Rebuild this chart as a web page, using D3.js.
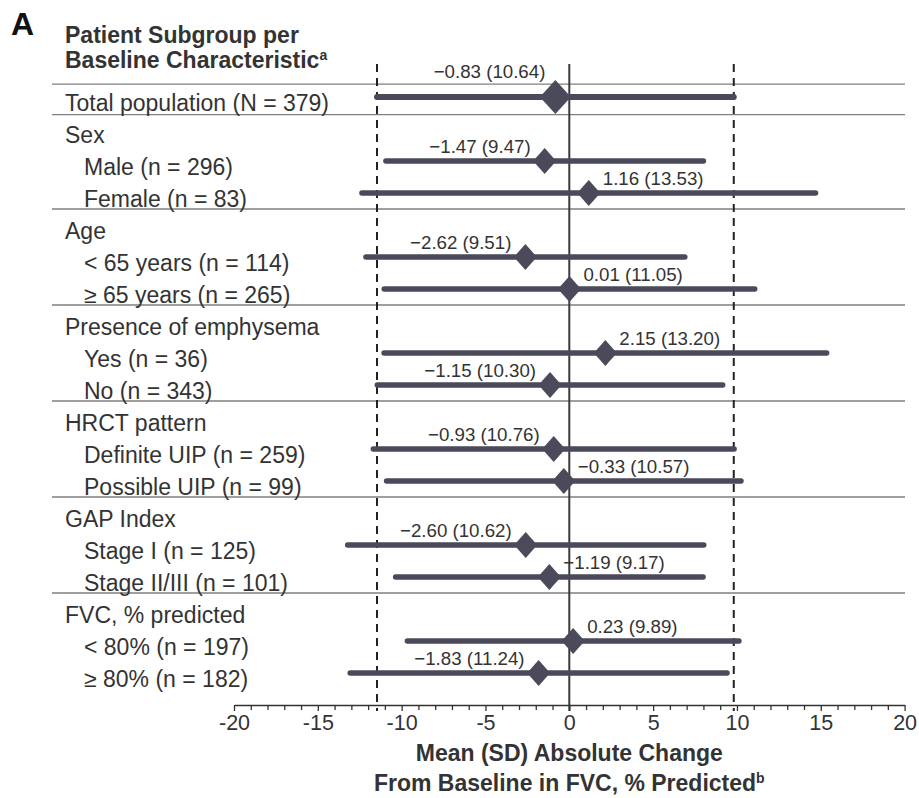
<!DOCTYPE html>
<html>
<head>
<meta charset="utf-8">
<script src="https://cdn.jsdelivr.net/npm/d3@7/dist/d3.min.js"></script>
<style>
  html, body { margin: 0; padding: 0; background: #fff; }
  svg { display: block; font-family: "Liberation Sans", Arial, sans-serif; }
</style>
</head>
<body>
<svg id="chart" width="919" height="798"></svg>
<script>
// ---- data ----
const rowLabels = [
  "Total population (N = 379)",
  "Sex", "Male (n = 296)", "Female (n = 83)",
  "Age", "< 65 years (n = 114)", "\u2265 65 years (n = 265)",
  "Presence of emphysema", "Yes (n = 36)", "No (n = 343)",
  "HRCT pattern", "Definite UIP (n = 259)", "Possible UIP (n = 99)",
  "GAP Index", "Stage I (n = 125)", "Stage II/III (n = 101)",
  "FVC, % predicted", "< 80% (n = 197)", "\u2265 80% (n = 182)"
];
const rowLevels = [0, 1, 2, 2, 1, 2, 2, 1, 2, 2, 1, 2, 2, 1, 2, 2, 1, 2, 2];
const means = [-0.83, null, -1.47, 1.16, null, -2.62, 0.01, null, 2.15, -1.15, null, -0.93, -0.33, null, -2.60, -1.19, null, 0.23, -1.83];
const sds   = [10.64, null, 9.47, 13.53, null, 9.51, 11.05, null, 13.20, 10.30, null, 10.76, 10.57, null, 10.62, 9.17, null, 9.89, 11.24];
const labelSide = ["L", null, "L", "R", null, "L", "R", null, "R", "L", null, "L", "R", null, "L", "R", null, "R", "L"];
const separators = [-0.4, 0.55, 3.5, 6.5, 9.5, 12.5, 15.5];
const xDomain = [-20, 20];
const majorTicks = d3.range(-20, 21, 5);
const minorTicks = d3.range(-20, 21, 1);

// ---- setup ----
const svg = d3.select("#chart");
const ink = "#333333";
const barColor = "#4a4a5a";

const x = d3.scaleLinear().domain(xDomain).range([234, 904.6]);
const y = d3.scaleLinear().domain([0, rowLabels.length - 1]).range([97, 673]);
const axisY = 705;
const topY = 64;

const fmt = v => (v < 0 ? "\u2212" : "") + Math.abs(v).toFixed(2);

// Panel letter & header
svg.append("text").attr("x", 11).attr("y", 35)
  .attr("font-size", 32).attr("font-weight", "bold").attr("fill", "#111").text("A");
const hdr = svg.append("g").attr("font-size", 23).attr("font-weight", "bold").attr("fill", ink);
hdr.append("text").attr("x", 65).attr("y", 43).text("Patient Subgroup per");
const h2 = hdr.append("text").attr("x", 65).attr("y", 68);
h2.append("tspan").text("Baseline Characteristic");
h2.append("tspan").attr("font-size", 14).attr("dy", -8).text("a");

// separators
svg.append("g").selectAll("line").data(separators).join("line")
  .attr("x1", 52).attr("x2", 905)
  .attr("y1", d => y(d)).attr("y2", d => y(d))
  .attr("stroke", "#7f7f7f").attr("stroke-width", 1.3);

// reference lines: ±SD of total population, and zero
const refLo = means[0] - sds[0], refHi = means[0] + sds[0];
svg.append("g").selectAll("line").data([refLo, refHi]).join("line")
  .attr("x1", d => x(d)).attr("x2", d => x(d))
  .attr("y1", topY).attr("y2", axisY + 6)
  .attr("stroke", "#222").attr("stroke-width", 2)
  .attr("stroke-dasharray", "8,6");
svg.append("line")
  .attr("x1", x(0)).attr("x2", x(0)).attr("y1", topY).attr("y2", axisY + 6)
  .attr("stroke", "#3a3a3a").attr("stroke-width", 2);

// row labels
svg.append("g").attr("font-size", 23).attr("fill", ink)
  .selectAll("text").data(rowLabels).join("text")
  .attr("x", (d, i) => rowLevels[i] === 2 ? 84 : 65)
  .attr("y", (d, i) => y(i) + 13.5)
  .text(d => d);

// bars
const rows = d3.range(rowLabels.length).filter(i => means[i] !== null);
const g = svg.append("g");
g.selectAll("line.bar").data(rows).join("line").attr("class", "bar")
  .attr("x1", i => x(means[i] - sds[i])).attr("x2", i => x(means[i] + sds[i]))
  .attr("y1", i => y(i)).attr("y2", i => y(i))
  .attr("stroke", barColor).attr("stroke-width", i => rowLevels[i] === 0 ? 6 : 5.5)
  .attr("stroke-linecap", "round");
g.selectAll("path.dia").data(rows).join("path").attr("class", "dia")
  .attr("d", i => {
    const hw = rowLevels[i] === 0 ? 15.5 : 11.5, hh = rowLevels[i] === 0 ? 17 : 13;
    const cx = x(means[i]), cy = y(i);
    return `M${cx},${cy - hh}L${cx + hw},${cy}L${cx},${cy + hh}L${cx - hw},${cy}Z`;
  })
  .attr("fill", barColor);
g.selectAll("text.val").data(rows).join("text").attr("class", "val")
  .attr("font-size", 18.7).attr("fill", ink)
  .attr("text-anchor", i => labelSide[i] === "L" ? "end" : "start")
  .attr("x", i => labelSide[i] === "L" ? x(means[i]) - (rowLevels[i] === 0 ? 10 : 14) : x(means[i]) + 14)
  .attr("y", i => y(i) - (rowLevels[i] === 0 ? 19 : 8))
  .text(i => `${fmt(means[i])} (${sds[i].toFixed(2)})`);

// axis
const axis = d3.axisBottom(x).tickValues(minorTicks).tickSize(5).tickSizeOuter(0)
  .tickPadding(5)
  .tickFormat(d => majorTicks.includes(d) ? String(d) : "");
const ax = svg.append("g").attr("transform", `translate(0,${axisY})`).call(axis);
ax.select(".domain").attr("stroke", "#333").attr("stroke-width", 1.6);
ax.selectAll(".tick line").attr("stroke", "#333").attr("stroke-width", 1.3)
  .attr("y2", d => majorTicks.includes(d) ? 6 : 5);
ax.selectAll(".tick text").attr("font-size", 21.5).attr("fill", ink)
  .attr("font-family", "'Liberation Sans', Arial, sans-serif");

// axis title
const t = svg.append("g").attr("font-size", 23).attr("font-weight", "bold").attr("fill", ink)
  .attr("text-anchor", "middle");
t.append("text").attr("x", x(0)).attr("y", 761).text("Mean (SD) Absolute Change");
const t2 = t.append("text").attr("x", x(0)).attr("y", 791);
t2.append("tspan").text("From Baseline in FVC, % Predicted");
t2.append("tspan").attr("font-size", 14).attr("dy", -8).text("b");
</script>
</body>
</html>
